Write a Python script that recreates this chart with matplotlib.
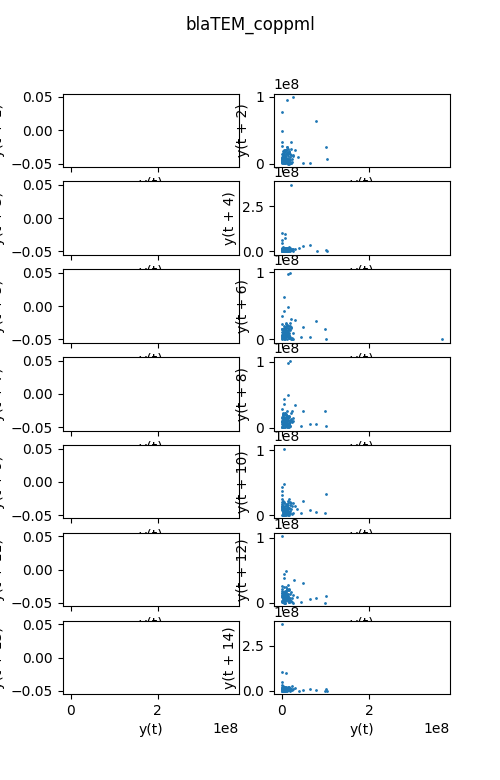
import matplotlib
matplotlib.use("Agg")
import matplotlib.pyplot as plt
import numpy as np

TITLE = "blaTEM_coppml"
SCALE = 1e8

# dense low-value part of the series (units of 1e6 copies/mL)
base_vals = [3.2, 8.1, 12.5, 5.4, 1.1, 15.8, 9.7, 2.3, 18.2, 6.6, 11.4, 0.8, 4.9, 14.1, 7.3,
             20.5, 3.8, 10.2, 1.9, 16.7, 5.9, 13.3, 0.5, 8.8, 22.1, 4.4, 9.1, 2.7, 17.4, 6.1,
             12.0, 1.4, 19.3, 7.8, 3.5, 14.9, 10.8, 0.9, 5.2, 24.6, 8.3, 2.1, 11.7, 6.9, 15.2,
             4.0, 9.5, 1.6, 13.8, 21.4, 3.1, 7.0, 0.7, 16.1, 10.0, 5.6, 18.9, 2.5, 12.7, 6.3]

# lags shown in the grid (left column has no data)
left_lags = [1, 3, 5, 7, 9, 11, 13]
right_lags = [2, 4, 6, 8, 10, 12, 14]

# extra (y(t), y(t+lag)) pairs per lag, units of 1e8
outliers = {
    2: [(0.115, 0.96), (0.25, 1.0), (0.0, 0.77), (0.0, 0.49), (0.79, 0.64), (1.0, 0.25),
        (1.03, 0.07), (0.64, 0.02), (0.48, 0.02), (0.2, 0.32), (0.01, 0.33), (0.37, 0.1),
        (0.3, 0.2), (0.01, 0.27)],
    4: [(0.2, 3.7), (0.0, 1.0), (0.08, 0.99), (0.0, 0.66), (0.0, 0.48), (0.08, 0.76),
        (0.8, 0.04), (1.0, 0.1), (1.03, 0.03), (0.64, 0.35), (0.48, 0.3), (0.4, 0.2),
        (0.3, 0.12)],
    6: [(0.14, 0.97), (0.19, 0.99), (0.06, 0.63), (0.14, 0.48), (0.04, 0.42), (0.78, 0.27),
        (0.98, 0.15), (1.01, 0.0), (0.64, 0.04), (0.43, 0.04), (0.48, 0.18), (3.67, 0.0),
        (0.0, 0.34), (0.2, 0.3), (0.3, 0.28)],
    8: [(0.14, 0.99), (0.19, 1.02), (0.14, 0.5), (0.05, 0.44), (0.06, 0.36), (0.3, 0.34),
        (0.48, 0.25), (0.98, 0.25), (0.64, 0.05), (0.78, 0.05), (1.01, 0.02), (0.43, 0.02),
        (0.0, 0.28)],
    10: [(0.06, 1.03), (0.06, 0.49), (0.0, 0.43), (0.0, 0.37), (0.0, 0.31), (1.01, 0.33),
         (0.48, 0.22), (0.3, 0.14), (0.64, 0.09), (0.78, 0.06), (0.98, 0.03), (0.43, 0.03),
         (0.35, 0.1)],
    12: [(0.0, 1.02), (0.1, 0.49), (0.06, 0.44), (0.06, 0.38), (0.28, 0.35), (0.48, 0.31),
         (0.15, 0.27), (0.0, 0.26), (0.34, 0.09), (0.64, 0.06), (0.78, 0.07), (1.01, 0.11),
         (0.98, 0.0), (0.43, 0.02)],
    14: [(0.0, 3.7), (0.0, 1.06), (0.1, 1.0), (0.0, 0.5), (0.64, 0.13), (0.79, 0.05),
         (1.0, 0.13), (1.03, 0.0), (0.98, 0.0), (0.4, 0.02), (0.48, 0.05), (0.3, 0.15),
         (0.0, 0.3)],
}

fig, axes = plt.subplots(7, 2, figsize=(5, 7.8), dpi=100, sharex=True)
fig.suptitle(TITLE)

base = np.array(base_vals) * 1e6
n = len(base_vals)
for row in range(7):
    # left: empty lag plot
    ax = axes[row, 0]
    ax.scatter([], [], s=1)
    ax.set_ylim(-0.055, 0.055)
    ax.set_xlabel("y(t)")
    ax.set_ylabel("y(t + %d)" % left_lags[row])

    # right: lag plot
    ax = axes[row, 1]
    lag = right_lags[row]
    xs, ys = [], []
    for k in (lag % n + 1, lag + 7):
        xs += list(base[:-k])
        ys += list(base[k:])
    for ox, oy in outliers[lag]:
        xs.append(ox * SCALE)
        ys.append(oy * SCALE)
    ax.scatter(xs, ys, s=1, color="C0")
    ax.set_xlabel("y(t)")
    ax.set_ylabel("y(t + %d)" % lag)

plt.savefig("out.png")
